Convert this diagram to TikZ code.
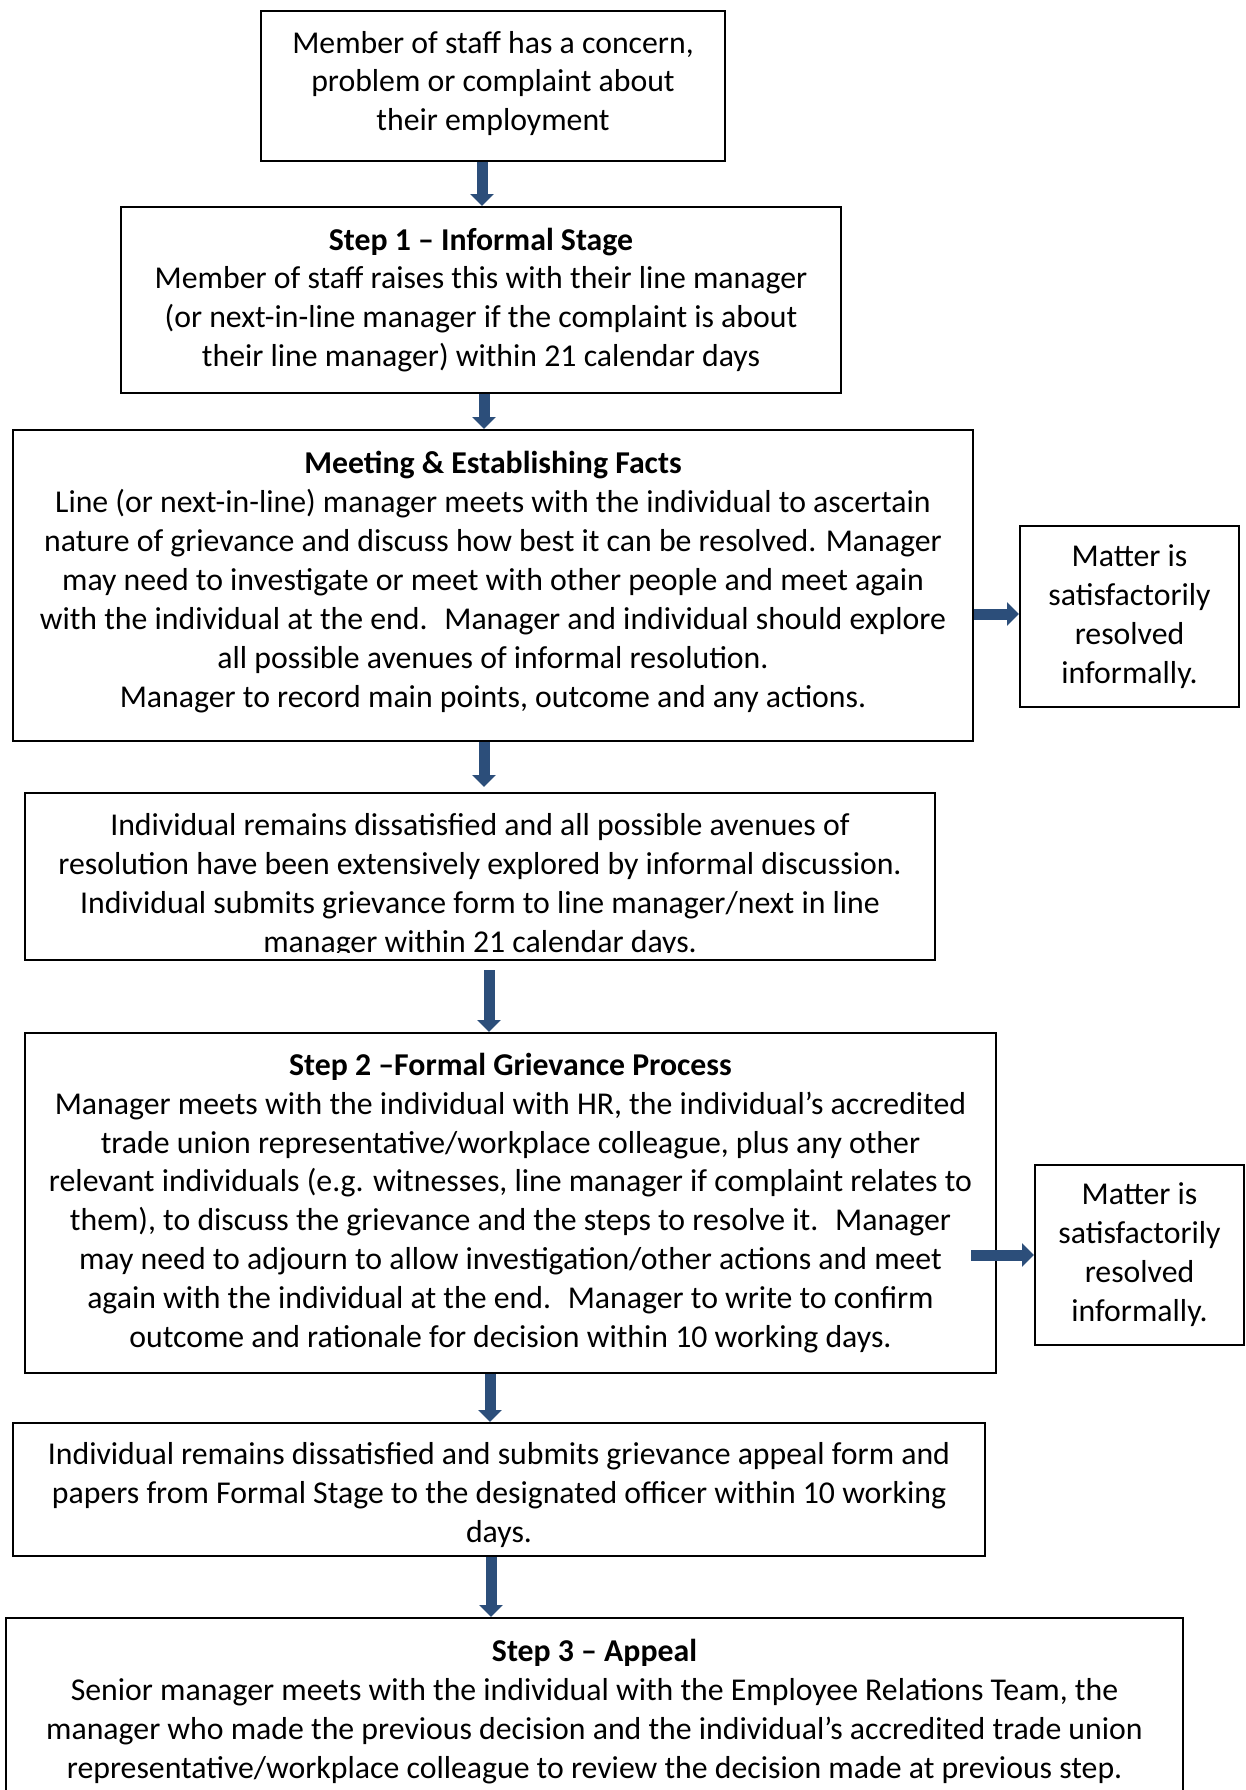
\documentclass[tikz,border=0pt]{standalone}
\usepackage{fontspec}
\setmainfont{Carlito}
\usetikzlibrary{arrows.meta}
\newdimen\pxu \pxu=0.3776pt
\definecolor{arrowblue}{RGB}{44,78,122}
\tikzset{
  box/.style={draw, line width=2\pxu, align=center, inner sep=0pt},
  boxtext/.style={align=center, inner sep=0pt},
  flow/.style={arrowblue, line width=11\pxu, -{Triangle[width=8.69pt, length=4.53pt]}},
}

\begin{document}
\begin{tikzpicture}[x=\pxu, y=-\pxu, font=\fontsize{12}{14.7}\selectfont]
  \useasboundingbox (0,0) rectangle (1245,1790);
  \clip (0,0) rectangle (1245,1790);

  % columns of the down arrows
  \coordinate (col1) at (482,0);
  \coordinate (col2) at (484,0);
  \coordinate (col3) at (484,0);
  \coordinate (col4) at (489,0);
  \coordinate (col5) at (490,0);
  \coordinate (col6) at (491,0);

  \node[box, minimum width=464\pxu, minimum height=150\pxu] (concern) at (493,86) {};
  \node[boxtext] (concerntext) at (493,83.5)
    {Member of staff has a concern,\\problem or complaint about\\their employment};
  \node[box, minimum width=720\pxu, minimum height=186\pxu] (informal) at (481,300)
    {\textbf{Step 1 – Informal Stage}\\
     Member of staff raises this with their line manager\\
     (or next-in-line manager if the complaint is about\\
     their line manager) within 21 calendar days};
  \node[box, minimum width=960\pxu, minimum height=311\pxu] (meeting) at (493,585.5) {};
  \node[boxtext] (meetingtext) at (493,582)
    {\textbf{Meeting \& Establishing Facts}\\
     Line (or next-in-line) manager meets with the individual to ascertain\\
     nature of grievance and discuss how best it can be resolved. Manager\\
     may need to investigate or meet with other people and meet again\\
     with the individual at the end.~ Manager and individual should explore\\
     all possible avenues of informal resolution.\\
     Manager to record main points, outcome and any actions.};
  \node[box, minimum width=219\pxu, minimum height=181\pxu] (resolved1) at (1129.5,616.5)
    {Matter is\\satisfactorily\\resolved\\informally.};

  % text runs into the lower border, cut at its last baseline
  \node[boxtext] (submittext) at (480,885.5)
    {Individual remains dissatisfied and all possible avenues of\\
     resolution have been extensively explored by informal discussion.\\
     Individual submits grievance form to line manager/next in line\\
     manager within 21 calendar days.};
  \fill[white] (30,952.5) rectangle (930,975);
  \node[box, minimum width=910\pxu, minimum height=167\pxu] (submit) at (480,876.5) {};

  \node[box, minimum width=971\pxu, minimum height=340\pxu] (formal) at (510.5,1203)
    {\textbf{Step 2 –Formal Grievance Process}\\
     Manager meets with the individual with HR, the individual’s accredited\\
     trade union representative/workplace colleague, plus any other\\
     relevant individuals (e.g. witnesses, line manager if complaint relates to\\
     them), to discuss the grievance and the steps to resolve it.~ Manager\\
     may need to adjourn to allow investigation/other actions and meet\\
     again with the individual at the end.~ Manager to write to confirm\\
     outcome and rationale for decision within 10 working days.};
  \node[box, minimum width=209\pxu, minimum height=180\pxu] (resolved2) at (1139.5,1255)
    {Matter is\\satisfactorily\\resolved\\informally.};
  \node[box, minimum width=972\pxu, minimum height=133\pxu] (appealform) at (499,1489.5) {};
  \node[boxtext] (appealformtext) at (499,1495.2)
    {Individual remains dissatisfied and submits grievance appeal form and\\
     papers from Formal Stage to the designated officer within 10 working\\
     days.};

  % last box runs off the page
  \node[box, minimum width=1177\pxu, minimum height=300\pxu, anchor=north] (appeal) at (594.5,1617) {};
  \node[boxtext, anchor=north] (appealtext) at (594.5,1639)
    {\textbf{Step 3 – Appeal}\\
     Senior manager meets with the individual with the Employee Relations Team, the\\
     manager who made the previous decision and the individual’s accredited trade union\\
     representative/workplace colleague to review the decision made at previous step.};

  % arrows
  \draw[flow] (concern.south -| col1) -- (informal.north -| col1);
  \draw[flow] (informal.south -| col2) -- (meeting.north -| col2);
  \draw[flow, shorten >=5\pxu] (meeting.south -| col3) -- (submit.north -| col3);
  \draw[flow, shorten <=9\pxu] (submit.south -| col4) -- (formal.north -| col4);
  \draw[flow] (formal.south -| col5) -- (appealform.north -| col5);
  \draw[flow] (appealform.south -| col6) -- (appeal.north -| col6);
  \draw[flow] (meeting.east |- 0,614) -- (resolved1.west |- 0,614);
  \draw[flow, shorten <=-26\pxu] (formal.east |- resolved2.west) -- (resolved2.west);
\end{tikzpicture}
\end{document}
